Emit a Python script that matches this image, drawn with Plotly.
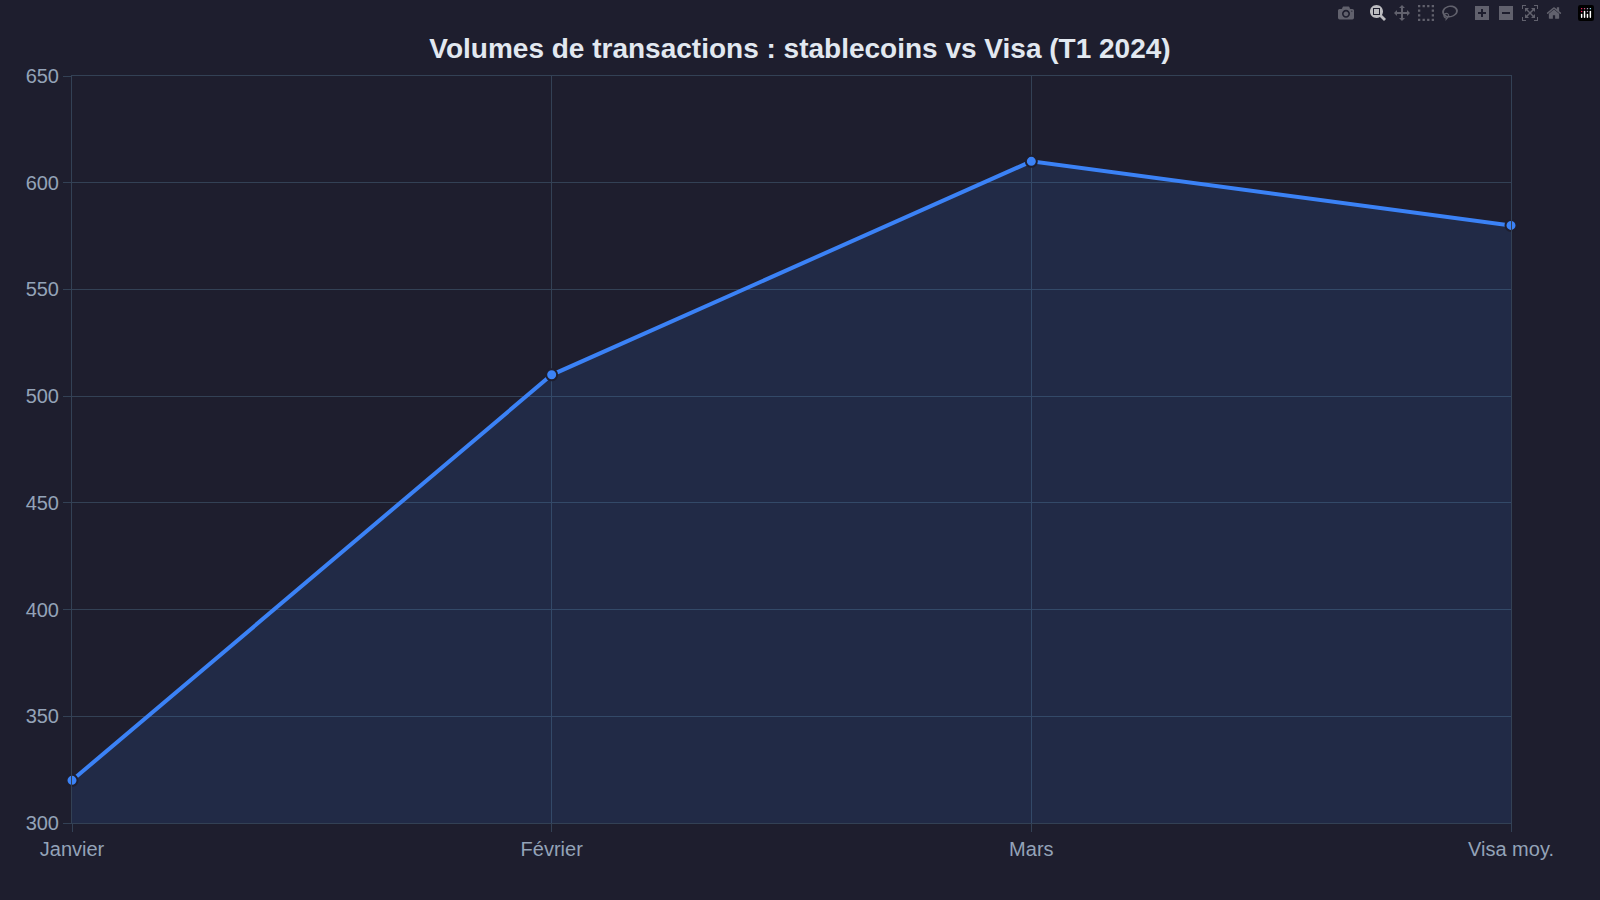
import plotly.graph_objects as go

months = ["Janvier", "Février", "Mars", "Visa moy."]
volumes = [320, 510, 610, 580]
y_ticks = [300, 350, 400, 450, 500, 550, 600, 650]

fig = go.Figure(go.Scatter(
    x=months, y=volumes, mode="lines+markers", fill="tozeroy", cliponaxis=False,
    fillcolor="rgba(59,130,246,0.12)",
    line=dict(color="#3b82f6", width=4),
    marker=dict(size=11, color="#3b82f6", line=dict(color="#1e1e2e", width=2)),
))
grid = "#334155"
fig.update_layout(
    width=1600, height=900, paper_bgcolor="#1e1e2e", plot_bgcolor="#1e1e2e",
    font=dict(family="Liberation Sans, Arial, sans-serif", color="#94a3b8", size=20),
    title=dict(text="<b>Volumes de transactions : stablecoins vs Visa (T1 2024)</b>",
               x=0.5, y=0.957, xanchor="center", font=dict(size=28, color="#e2e8f0")),
    margin=dict(l=72, r=89, t=76, b=77), showlegend=False,
)
fig.update_xaxes(showgrid=True, gridcolor=grid, linecolor=grid, showline=True, mirror=True,
                 ticks="outside", tickcolor=grid, ticklen=8, range=[0, 3])
fig.update_yaxes(showgrid=True, gridcolor=grid, linecolor=grid, showline=True, mirror=True,
                 ticks="outside", tickcolor=grid, ticklen=8, range=[300, 650],
                 tickvals=y_ticks, zeroline=False, ticklabelstandoff=0)
fig.write_html("out.html", post_script="document.body.style.margin='0';document.body.style.overflow='hidden';document.body.style.background='#1e1e2e';")
